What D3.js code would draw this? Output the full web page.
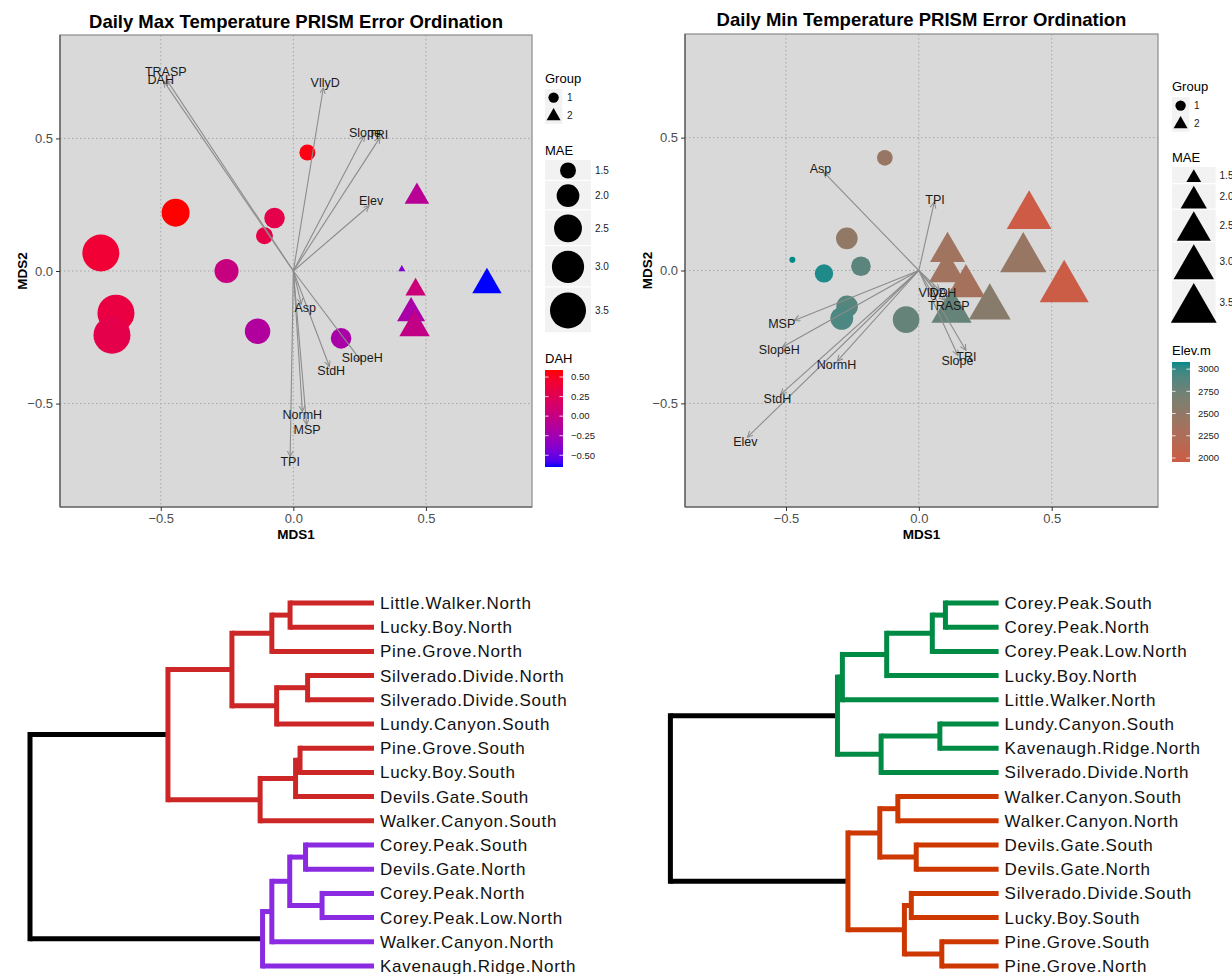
<!DOCTYPE html>
<html>
<head>
<meta charset="UTF-8">
<script src="https://d3js.org/d3.v7.min.js"></script>
<title>PRISM Error Ordination</title>
<style>
  body { margin: 0; background: #fff; }
  svg text { font-family: "Liberation Sans", Arial, sans-serif; }
</style>
</head>
<body>
<svg id="fig" width="1232" height="974"></svg>
<script>
// ---- daily max ordination ----
const maxX = [0.053, -0.444, -0.071, -0.109, -0.726, -0.252, -0.669, -0.684, -0.135, 0.180, 0.466, 0.409, 0.730, 0.461, 0.444, 0.457];
const maxY = [0.447, 0.220, 0.200, 0.133, 0.068, 0.000, -0.159, -0.242, -0.227, -0.254, 0.280, 0.007, -0.052, -0.070, -0.159, -0.213];
const maxMAE = [1.50, 2.51, 1.82, 1.56, 3.64, 2.12, 3.64, 3.64, 2.25, 1.82, 1.65, 1.06, 1.92, 1.45, 1.84, 1.99];
const maxDAH = [0.55, 0.59, 0.30, 0.32, 0.42, 0.02, 0.35, 0.30, -0.15, -0.20, -0.10, -0.40, -0.65, 0.05, -0.20, -0.02];
const maxGroup = [1, 1, 1, 1, 1, 1, 1, 1, 1, 1, 2, 2, 2, 2, 2, 2];
const maxVecNames = ["TRASP", "DAH", "VllyD", "Slope", "TRI", "Elev", "Asp", "SlopeH", "StdH", "NormH", "MSP", "TPI"];
const maxVecX = [-0.477, -0.489, 0.113, 0.267, 0.327, 0.286, 0.030, 0.256, 0.136, 0.034, 0.050, -0.012];
const maxVecY = [0.720, 0.716, 0.690, 0.511, 0.504, 0.246, -0.125, -0.340, -0.360, -0.530, -0.580, -0.700];
const maxLabX = [-0.481, -0.500, 0.120, 0.270, 0.320, 0.293, 0.045, 0.260, 0.143, 0.034, 0.052, -0.012];
const maxLabY = [0.750, 0.723, 0.710, 0.520, 0.515, 0.265, -0.140, -0.326, -0.375, -0.540, -0.600, -0.720];

// ---- daily min ordination ----
const minX = [-0.128, -0.476, -0.271, -0.218, -0.357, -0.270, -0.290, -0.048, 0.415, 0.393, 0.108, 0.106, 0.177, 0.547, 0.267, 0.123];
const minY = [0.424, 0.040, 0.121, 0.016, -0.011, -0.135, -0.180, -0.185, 0.205, 0.044, 0.070, -0.005, -0.059, -0.066, -0.139, -0.153];
const minMAE = [1.74, 1.34, 2.17, 2.01, 1.92, 2.17, 2.27, 2.63, 3.39, 3.54, 2.57, 2.65, 2.84, 3.82, 3.12, 2.98];
const minElev = [2450, 3080, 2500, 2850, 3050, 2880, 2920, 2800, 1960, 2450, 2380, 2380, 2330, 1980, 2580, 2800];
const minGroup = [1, 1, 1, 1, 1, 1, 1, 1, 2, 2, 2, 2, 2, 2, 2, 2];
const minVecNames = ["Asp", "TPI", "VllyD", "DAH", "TRASP", "TRI", "Slope", "MSP", "SlopeH", "NormH", "StdH", "Elev"];
const minVecX = [-0.358, 0.058, 0.060, 0.079, 0.098, 0.177, 0.147, -0.469, -0.513, -0.307, -0.520, -0.645];
const minVecY = [0.370, 0.257, -0.075, -0.075, -0.113, -0.300, -0.320, -0.188, -0.288, -0.341, -0.466, -0.627];
const minLabX = [-0.370, 0.061, 0.054, 0.091, 0.113, 0.179, 0.145, -0.516, -0.525, -0.310, -0.532, -0.653];
const minLabY = [0.382, 0.267, -0.085, -0.085, -0.132, -0.323, -0.341, -0.200, -0.298, -0.353, -0.482, -0.645];

const axisTicks = [-0.5, 0, 0.5];
const maeBreaks = [1.5, 2.0, 2.5, 3.0, 3.5];
const dahBreaks = [0.5, 0.25, 0, -0.25, -0.5];
const elevBreaks = [3000, 2750, 2500, 2250, 2000];

// ---- dendrograms (hclust style merges: negative = leaf, positive = merge row) ----
const maxLeaves = ["Little.Walker.North", "Lucky.Boy.North", "Pine.Grove.North", "Silverado.Divide.North",
  "Silverado.Divide.South", "Lundy.Canyon.South", "Pine.Grove.South", "Lucky.Boy.South", "Devils.Gate.South",
  "Walker.Canyon.South", "Corey.Peak.South", "Devils.Gate.North", "Corey.Peak.North", "Corey.Peak.Low.North",
  "Walker.Canyon.North", "Kavenaugh.Ridge.North"];
const maxMerges = [[-13, -14, 1.51], [-4, -5, 1.93], [-11, -12, 1.99], [-7, -8, 2.15], [4, -9, 2.28],
  [-1, -2, 2.44], [3, 1, 2.45], [2, -6, 2.83], [6, -3, 2.97], [7, -15, 2.97], [10, -16, 3.24],
  [5, -10, 3.31], [9, 8, 4.13], [13, 12, 5.99], [14, 11, 10]];
const minLeaves = ["Corey.Peak.South", "Corey.Peak.North", "Corey.Peak.Low.North", "Lucky.Boy.North",
  "Little.Walker.North", "Lundy.Canyon.South", "Kavenaugh.Ridge.North", "Silverado.Divide.North",
  "Walker.Canyon.South", "Walker.Canyon.North", "Devils.Gate.South", "Devils.Gate.North",
  "Silverado.Divide.South", "Lucky.Boy.South", "Pine.Grove.South", "Pine.Grove.North"];
const minMerges = [[-1, -2, 1.62], [-15, -16, 1.73], [-6, -7, 1.79], [1, -3, 2.02], [-11, -12, 2.51],
  [-13, -14, 2.66], [6, 2, 2.87], [-9, -10, 3.07], [4, -4, 3.41], [3, -8, 3.58], [8, 5, 3.62],
  [11, 7, 4.59], [9, -5, 4.76], [13, 10, 4.91], [14, 12, 10]];

const svg = d3.select("#fig");
const defs = svg.append("defs");
defs.append("marker").attr("id", "arr").attr("markerUnits", "userSpaceOnUse")
  .attr("markerWidth", 8).attr("markerHeight", 8).attr("refX", 6).attr("refY", 3)
  .attr("orient", "auto")
  .append("path").attr("d", "M0,0L6,3L0,6").attr("fill", "none").attr("stroke", "#8c8c8c").attr("stroke-width", 1);

// triangle with the same area as a circle of radius R (R's pch 17)
const triPath = R => `M0,${-1.555 * R}L${1.3468 * R},${0.7776 * R}L${-1.3468 * R},${0.7776 * R}Z`;

function ordination(o) {
  const x = d3.scaleLinear().domain([-0.88, 0.9]).range([o.left, o.right]);
  const y = d3.scaleLinear().domain([-0.89, 0.89]).range([o.bottom, o.top]);
  const area = d3.scaleLinear().domain([1.5, 3.5]).range(o.areaRange);
  const rad = v => Math.sqrt(Math.max(area(v), 4));
  const g = svg.append("g");

  g.append("rect").attr("x", o.left).attr("y", o.top)
    .attr("width", o.right - o.left).attr("height", o.bottom - o.top)
    .attr("fill", "#d9d9d9");

  axisTicks.forEach(t => {
    g.append("line").attr("x1", x(t)).attr("x2", x(t)).attr("y1", o.top).attr("y2", o.bottom)
      .attr("stroke", "#a6a6a6").attr("stroke-dasharray", "1.5,2.5");
    g.append("line").attr("y1", y(t)).attr("y2", y(t)).attr("x1", o.left).attr("x2", o.right)
      .attr("stroke", "#a6a6a6").attr("stroke-dasharray", "1.5,2.5");
  });

  // points
  o.px.forEach((v, i) => {
    const r = rad(o.mae[i]);
    const col = o.color(o.cval[i]);
    if (o.grp[i] === 1) {
      g.append("circle").attr("cx", x(v)).attr("cy", y(o.py[i])).attr("r", r).attr("fill", col);
    } else {
      g.append("path").attr("transform", `translate(${x(v)},${y(o.py[i])})`)
        .attr("d", triPath(r)).attr("fill", col);
    }
  });

  // environmental vectors
  o.vx.forEach((v, i) => {
    g.append("line").attr("x1", x(0)).attr("y1", y(0)).attr("x2", x(v)).attr("y2", y(o.vy[i]))
      .attr("stroke", "#8c8c8c").attr("stroke-width", 1.1).attr("marker-end", "url(#arr)");
  });
  o.vn.forEach((n, i) => {
    g.append("text").attr("x", x(o.lx[i])).attr("y", y(o.ly[i])).attr("dy", "0.35em")
      .attr("text-anchor", "middle").attr("font-size", 12.5).attr("fill", "#1a1a1a").text(n);
  });

  g.append("rect").attr("x", o.left).attr("y", o.top)
    .attr("width", o.right - o.left).attr("height", o.bottom - o.top)
    .attr("fill", "none").attr("stroke", "#8a8a8a").attr("stroke-width", 1.2);

  // axes
  const ax = g.append("g").attr("transform", `translate(0,${o.bottom})`)
    .call(d3.axisBottom(x).tickValues(axisTicks).tickSize(4).tickPadding(3).tickFormat(d3.format(".1f")));
  const ay = g.append("g").attr("transform", `translate(${o.left},0)`)
    .call(d3.axisLeft(y).tickValues(axisTicks).tickSize(4).tickPadding(3).tickFormat(d3.format(".1f")));
  [ax, ay].forEach(a => {
    a.select(".domain").attr("stroke", "#555").attr("stroke-width", 1.2);
    a.selectAll(".tick line").attr("stroke", "#333");
    a.selectAll(".tick text").attr("font-size", 13).attr("fill", "#4d4d4d")
      .attr("font-family", "Liberation Sans, Arial, sans-serif");
  });
  ay.select(".domain").attr("d", `M0,${o.top}V${o.bottom}`);
  ax.select(".domain").attr("d", `M${o.left},0H${o.right}`);

  const cx = (o.left + o.right) / 2;
  g.append("text").attr("x", cx).attr("y", o.titleY).attr("text-anchor", "middle")
    .attr("font-size", 18.5).attr("font-weight", "bold").text(o.title);
  g.append("text").attr("x", cx).attr("y", o.bottom + 32).attr("text-anchor", "middle")
    .attr("font-size", 13.5).attr("font-weight", "bold").text("MDS1");
  g.append("text").attr("transform", `translate(${o.left - 33},${y(0)}) rotate(-90)`)
    .attr("text-anchor", "middle").attr("font-size", 13.5).attr("font-weight", "bold").text("MDS2");

  // ---- legends ----
  const L = o.legend;
  const lg = svg.append("g");
  lg.append("text").attr("x", L.x).attr("y", L.groupY).attr("font-size", 13).text("Group");
  [1, 2].forEach((k, i) => {
    const ky = L.groupY + 6 + i * 17.5;
    lg.append("rect").attr("x", L.x).attr("y", ky).attr("width", 17.3).attr("height", 17.3).attr("fill", "#f2f2f2");
    if (k === 1) lg.append("circle").attr("cx", L.x + 8.6).attr("cy", ky + 8.6).attr("r", 5.2);
    else lg.append("path").attr("transform", `translate(${L.x + 8.6},${ky + 9.6})`).attr("d", triPath(5.2));
    lg.append("text").attr("x", L.x + 22).attr("y", ky + 8.6).attr("dy", "0.35em").attr("font-size", 10)
      .attr("fill", "#1a1a1a").text(k);
  });

  lg.append("text").attr("x", L.x).attr("y", L.maeY).attr("font-size", 13).text("MAE");
  const rMax = rad(maeBreaks[maeBreaks.length - 1]);
  const kw = 2.5 * rMax + 1;
  let ky = L.maeY + 5;
  maeBreaks.forEach(b => {
    const r = rad(b);
    const kh = Math.max(17.3, 2.5 * r + 1);
    lg.append("rect").attr("x", L.x).attr("y", ky).attr("width", kw).attr("height", kh - 1.2).attr("fill", "#f2f2f2");
    const kcx = L.x + kw / 2, kcy = ky + kh / 2;
    if (L.maeShape === 1) lg.append("circle").attr("cx", kcx).attr("cy", kcy).attr("r", r);
    else lg.append("path").attr("transform", `translate(${kcx},${kcy + 0.4 * r})`).attr("d", triPath(r));
    lg.append("text").attr("x", L.x + kw + 4).attr("y", kcy).attr("dy", "0.35em").attr("font-size", 10)
      .attr("fill", "#1a1a1a").text(d3.format(".1f")(b));
    ky += kh;
  });

  lg.append("text").attr("x", L.x).attr("y", L.barY - 7).attr("font-size", 13).text(L.barTitle);
  const gid = "grad" + L.barTitle.replace(".", "");
  const grad = defs.append("linearGradient").attr("id", gid).attr("x1", 0).attr("x2", 0).attr("y1", 1).attr("y2", 0);
  const dom = o.color.domain();
  d3.range(0, 1.0001, 0.05).forEach(t => {
    grad.append("stop").attr("offset", t).attr("stop-color", o.color(dom[0] + t * (dom[1] - dom[0])));
  });
  lg.append("rect").attr("x", L.x).attr("y", L.barY).attr("width", 18).attr("height", L.barH)
    .attr("fill", `url(#${gid})`);
  const by = d3.scaleLinear().domain(dom).range([L.barY + L.barH, L.barY]);
  L.breaks.forEach(b => {
    lg.append("line").attr("x1", L.x).attr("x2", L.x + 3.6).attr("y1", by(b)).attr("y2", by(b))
      .attr("stroke", "#fff").attr("stroke-opacity", 0.8);
    lg.append("line").attr("x1", L.x + 14.4).attr("x2", L.x + 18).attr("y1", by(b)).attr("y2", by(b))
      .attr("stroke", "#fff").attr("stroke-opacity", 0.8);
    lg.append("text").attr("x", L.x + 26).attr("y", by(b)).attr("dy", "0.35em").attr("font-size", 9.5)
      .attr("fill", "#1a1a1a").text(L.fmt(b));
  });
}

const dahColor = d3.scaleLinear().domain([-0.65, 0.59]).range(["blue", "red"]).interpolate(d3.interpolateLab);
const elevColor = d3.scaleLinear().domain([1955, 3080]).range(["#CD5B45", "#008B8B"]).interpolate(d3.interpolateLab);

ordination({
  left: 60, right: 532, top: 35, bottom: 507, titleY: 28,
  title: "Daily Max Temperature PRISM Error Ordination",
  px: maxX, py: maxY, mae: maxMAE, cval: maxDAH, grp: maxGroup, color: dahColor,
  areaRange: [64, 324],
  vn: maxVecNames, vx: maxVecX, vy: maxVecY, lx: maxLabX, ly: maxLabY,
  legend: { x: 545, groupY: 83, maeY: 155, maeShape: 1, barY: 370, barH: 97, barTitle: "DAH",
    breaks: dahBreaks, fmt: d3.format(".2f") }
});

ordination({
  left: 685, right: 1158, top: 34, bottom: 507, titleY: 26,
  title: "Daily Min Temperature PRISM Error Ordination",
  px: minX, py: minY, mae: minMAE, cval: minElev, grp: minGroup, color: elevColor,
  areaRange: [30, 290],
  vn: minVecNames, vx: minVecX, vy: minVecY, lx: minLabX, ly: minLabY,
  legend: { x: 1172, groupY: 91, maeY: 162, maeShape: 2, barY: 362, barH: 100, barTitle: "Elev.m",
    breaks: elevBreaks, fmt: d3.format("d") }
});

function dendrogram(leaves, merges, colors, xr) {
  const hx = d3.scaleLinear().domain([0, 10]).range(xr);
  const ly = d3.scaleLinear().domain([0, leaves.length - 1]).range([603, 966]);
  const nodes = [];
  const pos = id => id < 0 ? { x: hx(0), y: ly(-id - 1) } : nodes[id - 1];
  merges.forEach((m, i) => {
    const a = pos(m[0]), b = pos(m[1]);
    nodes[i] = { x: hx(m[2]), y: (a.y + b.y) / 2 };
  });
  const g = svg.append("g").attr("fill", "none").attr("stroke-width", 5);
  // one vertical bar per node plus a horizontal run to each child
  function node(id, col) {
    const m = merges[id - 1], n = nodes[id - 1];
    const a = pos(m[0]), b = pos(m[1]);
    g.append("line").attr("x1", n.x).attr("x2", n.x).attr("y1", a.y).attr("y2", b.y)
      .attr("stroke", col).attr("stroke-linecap", "square");
    [a, b].forEach(p => {
      g.append("line").attr("x1", n.x).attr("x2", p.x).attr("y1", p.y).attr("y2", p.y).attr("stroke", col);
    });
  }
  function walk(id, col) {
    if (id < 0) return;
    node(id, col);
    walk(merges[id - 1][0], col);
    walk(merges[id - 1][1], col);
  }
  const rootId = merges.length;
  node(rootId, "#000");
  walk(merges[rootId - 1][0], colors[0]);
  walk(merges[rootId - 1][1], colors[1]);
  leaves.forEach((name, i) => {
    svg.append("text").attr("x", hx(0) + 6).attr("y", ly(i)).attr("dy", "0.35em")
      .attr("font-size", 17).attr("letter-spacing", 0.7).attr("fill", "#111").text(name);
  });
}

dendrogram(maxLeaves, maxMerges, ["#CD2626", "#8A2BE2"], [374, 30]);
dendrogram(minLeaves, minMerges, ["#008B45", "#CD3700"], [998.6, 670.4]);
</script>
</body>
</html>
